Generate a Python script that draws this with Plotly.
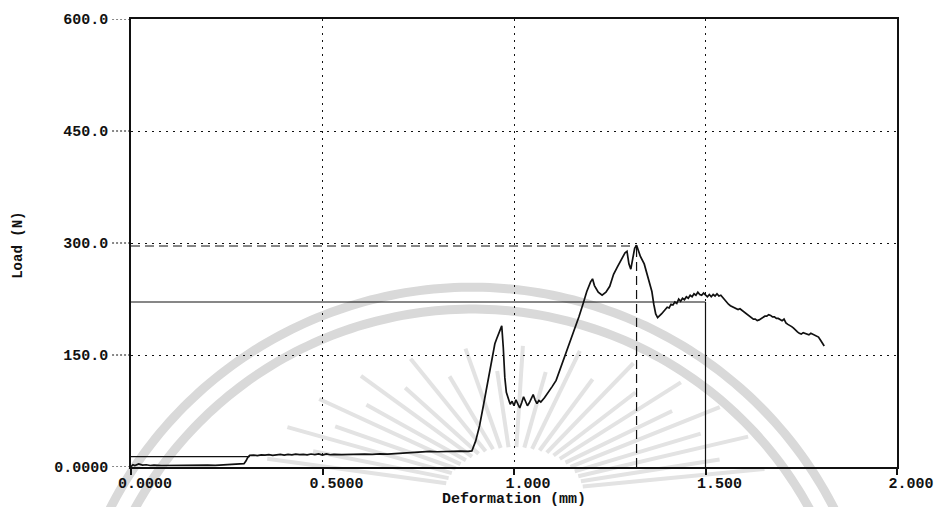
import numpy as np
import plotly.graph_objects as go

# ---- data: load-deformation record ----
deformation_mm = [
    0.000, 0.005, 0.010, 0.020, 0.030, 0.040, 0.050, 0.060, 0.080, 0.100,
    0.120, 0.140, 0.160, 0.180, 0.200, 0.220, 0.240, 0.260, 0.280, 0.295,
    0.300, 0.305, 0.310, 0.320, 0.330, 0.340, 0.350, 0.360, 0.370, 0.380,
    0.390, 0.400, 0.410, 0.420, 0.430, 0.440, 0.450, 0.460, 0.470, 0.480,
    0.490, 0.500, 0.510, 0.520, 0.530, 0.550, 0.570, 0.590, 0.610, 0.630,
    0.650, 0.670, 0.690, 0.710, 0.730, 0.750, 0.760, 0.780, 0.800, 0.820,
    0.840, 0.860, 0.880, 0.890, 0.900, 0.910, 0.920, 0.930, 0.940, 0.945,
    0.950, 0.955, 0.960, 0.965, 0.968, 0.972, 0.976, 0.980, 0.985, 0.990,
    0.995, 1.000, 1.005, 1.010, 1.015, 1.020, 1.025, 1.030, 1.035, 1.040,
    1.045, 1.050, 1.055, 1.060, 1.065, 1.070, 1.080, 1.090, 1.100, 1.110,
    1.120, 1.130, 1.140, 1.150, 1.160, 1.170, 1.180, 1.190, 1.200, 1.205,
    1.210, 1.220, 1.230, 1.240, 1.250, 1.260, 1.270, 1.280, 1.290, 1.295,
    1.300, 1.305, 1.310, 1.315, 1.320, 1.325, 1.330, 1.340, 1.350, 1.360,
    1.365, 1.370, 1.375, 1.380, 1.385, 1.390, 1.395, 1.400, 1.405, 1.410,
    1.415, 1.420, 1.425, 1.430, 1.435, 1.440, 1.445, 1.450, 1.455, 1.460,
    1.465, 1.470, 1.475, 1.480, 1.485, 1.490, 1.495, 1.500, 1.505, 1.510,
    1.515, 1.520, 1.525, 1.530, 1.535, 1.540, 1.545, 1.550, 1.555, 1.560,
    1.565, 1.570, 1.575, 1.580, 1.585, 1.590, 1.595, 1.600, 1.605, 1.610,
    1.615, 1.620, 1.625, 1.630, 1.635, 1.640, 1.645, 1.650, 1.655, 1.660,
    1.665, 1.670, 1.675, 1.680, 1.685, 1.690, 1.695, 1.700, 1.705, 1.710,
    1.715, 1.720, 1.725, 1.730, 1.735, 1.740, 1.745, 1.750, 1.755, 1.760,
    1.765, 1.770, 1.775, 1.780, 1.785, 1.790, 1.795, 1.800, 1.805, 1.810,
]
load_n = [
    0.5, 3.0, 2.0, 4.0, 2.5, 3.0, 2.0, 2.5, 2.0, 2.2,
    1.8, 2.0, 2.3, 2.0, 2.4, 2.1, 2.6, 2.9, 3.5, 4.5,
    8.0, 13.0, 15.5, 16.0, 15.2, 16.3, 15.8, 16.5, 15.6, 16.2,
    16.8, 16.0, 16.9, 16.3, 17.2, 16.5, 17.0, 16.2, 17.4, 16.6,
    17.6, 16.0, 17.5, 16.4, 17.0, 16.5, 17.1, 16.7, 17.3, 16.9,
    17.6, 17.2, 17.8, 18.2, 18.8, 19.5, 20.5, 20.8, 20.4, 21.0,
    20.6, 21.2, 20.9, 21.5, 35.0, 55.0, 82.0, 110.0, 138.0, 152.0,
    165.0, 172.0, 178.0, 186.0, 189.0, 160.0, 120.0, 100.0, 90.0, 84.0,
    88.0, 82.0, 90.0, 85.0, 79.0, 86.0, 94.0, 88.0, 82.0, 86.0,
    92.0, 97.0, 90.0, 85.0, 89.0, 87.0, 93.0, 100.0, 108.0, 116.0,
    130.0, 145.0, 160.0, 172.0, 186.0, 202.0, 218.0, 235.0, 248.0, 252.0,
    243.0, 234.0, 230.0, 234.0, 242.0, 258.0, 268.0, 278.0, 287.0, 289.0,
    272.0, 265.0, 280.0, 293.0, 297.0, 290.0, 282.0, 272.0, 255.0, 235.0,
    218.0, 205.0, 200.0, 202.0, 205.0, 208.0, 211.0, 214.0, 213.0, 218.0,
    217.0, 221.0, 219.0, 225.0, 222.0, 226.0, 224.0, 228.0, 226.0, 230.0,
    228.0, 232.0, 230.0, 234.0, 231.0, 230.0, 233.0, 231.0, 228.0, 231.0,
    228.0, 231.0, 229.0, 232.0, 229.0, 230.0, 227.0, 224.0, 220.0, 218.0,
    216.0, 215.0, 214.0, 213.0, 211.0, 212.0, 210.0, 208.0, 205.0, 203.0,
    201.0, 200.0, 198.0, 198.0, 196.0, 197.0, 199.0, 200.0, 202.0, 202.0,
    204.0, 203.0, 201.0, 201.0, 199.0, 199.0, 197.0, 196.0, 198.0, 193.0,
    191.0, 190.0, 188.0, 186.0, 183.0, 181.0, 179.0, 178.0, 180.0, 179.0,
    177.0, 177.0, 179.0, 178.0, 176.0, 176.0, 174.0, 170.0, 166.0, 162.0,
]

# marker values printed by the test machine
peak_load = 296.0
peak_deformation = 1.32
ref_load = 221.0
ref_deformation = 1.50
preload = 14.0
preload_end = 0.31

x_ticks = [0.0, 0.5, 1.0, 1.5, 2.0]
x_tick_text = ["0.0000", "0.5000", "1.000", "1.500", "2.000"]
y_ticks = [0.0, 150.0, 300.0, 450.0, 600.0]
y_tick_text = ["0.0000", "150.0", "300.0", "450.0", "600.0"]

# ---- page geometry (pixels) ----
W, H = 946, 507
L, R, T, B = 131, 899, 16, 467

def px(x):
    return (x - L) / (R - L)

def py(y):
    return (B - y) / (B - T)

FONT = "Liberation Mono, Courier New, monospace"
INK = "#111111"

fig = go.Figure()

fig.add_trace(go.Scatter(
    x=deformation_mm, y=load_n, mode="lines",
    line=dict(color=INK, width=1.7), hoverinfo="x+y", showlegend=False,
))

shapes = []

# faint background emblem: two concentric arcs and a fan of rays
def arc_path(cx, cy, r):
    ang = np.linspace(np.pi * 1.05, -0.05 * np.pi, 200)
    pts = [(px(cx + r * np.cos(a)), py(cy - r * np.sin(a))) for a in ang]
    return "M " + " L ".join(f"{a:.5f},{b:.5f}" for a, b in pts)

for r in (407, 385):
    shapes.append(dict(type="path", xref="paper", yref="paper",
                       path=arc_path(473, 693, r),
                       line=dict(color="#d9d9d9", width=9), layer="below"))

sun_cx, sun_cy = 515, 495
for i, deg in enumerate(np.arange(10, 172, 6.5)):
    a = np.radians(deg)
    long_ray = i % 2 == 0
    ax0, by0 = 70, 48
    ax1, by1 = (255, 150) if long_ray else (215, 125)
    shapes.append(dict(type="line", xref="paper", yref="paper",
                       x0=px(sun_cx + ax0 * np.cos(a)), y0=py(sun_cy - by0 * np.sin(a)),
                       x1=px(sun_cx + ax1 * np.cos(a)), y1=py(sun_cy - by1 * np.sin(a)),
                       line=dict(color="#e3e3e3", width=4), layer="below"))

# dotted leaders between y tick labels and the axis
for v in y_ticks:
    shapes.append(dict(type="line", xref="paper", yref="y",
                       x0=px(L - 19), x1=0, y0=v, y1=v,
                       line=dict(color=INK, width=1, dash="2px,2px")))

# dashed marker at the peak load
shapes.append(dict(type="line", xref="x", yref="y", x0=0, x1=peak_deformation,
                   y0=peak_load, y1=peak_load,
                   line=dict(color=INK, width=1.2, dash="9px,5px")))
shapes.append(dict(type="line", xref="x", yref="y", x0=peak_deformation,
                   x1=peak_deformation, y0=0, y1=peak_load,
                   line=dict(color=INK, width=1.2, dash="9px,5px")))

# solid marker at the reference deformation
shapes.append(dict(type="line", xref="x", yref="y", x0=0, x1=ref_deformation,
                   y0=ref_load, y1=ref_load, line=dict(color=INK, width=1.2)))
shapes.append(dict(type="line", xref="x", yref="y", x0=ref_deformation,
                   x1=ref_deformation, y0=0, y1=ref_load,
                   line=dict(color=INK, width=1.2)))

# preload line
shapes.append(dict(type="line", xref="x", yref="y", x0=0, x1=preload_end,
                   y0=preload, y1=preload, line=dict(color=INK, width=1.2)))

fig.update_layout(
    width=W, height=H,
    margin=dict(l=L, r=W - R, t=T, b=H - B, pad=0),
    paper_bgcolor="white", plot_bgcolor="white",
    shapes=shapes,
    showlegend=False,
    font=dict(family=FONT, color=INK),
    annotations=[
        dict(text="Deformation (mm)", xref="paper", yref="paper",
             x=px(515), y=py(500), xanchor="center", yanchor="middle",
             showarrow=False, font=dict(family=FONT, size=15, color=INK, weight="bold")),
        dict(text="Load (N)", xref="paper", yref="paper",
             x=px(18), y=py(244), xanchor="center", yanchor="middle",
             textangle=-90, showarrow=False,
             font=dict(family=FONT, size=14, color=INK, weight="bold")),
    ],
)

fig.update_xaxes(
    range=[0, 2], tickvals=x_ticks, ticktext=x_tick_text,
    showgrid=True, gridcolor=INK, gridwidth=1, griddash="2px,5px",
    showline=True, linecolor=INK, linewidth=1.5, mirror=True,
    ticks="outside", ticklen=6, tickwidth=1.5, tickcolor=INK,
    ticklabelshift=14, ticklabelstandoff=-5,
    tickfont=dict(family=FONT, size=15, color=INK, weight="bold"),
    zeroline=False,
)
fig.update_yaxes(
    range=[0, 600], tickvals=y_ticks, ticktext=y_tick_text,
    showgrid=True, gridcolor=INK, gridwidth=1, griddash="2px,5px",
    showline=True, linecolor=INK, linewidth=1.5, mirror=True,
    ticks="outside", ticklen=18, tickcolor="rgba(0,0,0,0)",
    tickfont=dict(family=FONT, size=15, color=INK, weight="bold"),
    zeroline=False,
)

fig.write_html("out.html")
